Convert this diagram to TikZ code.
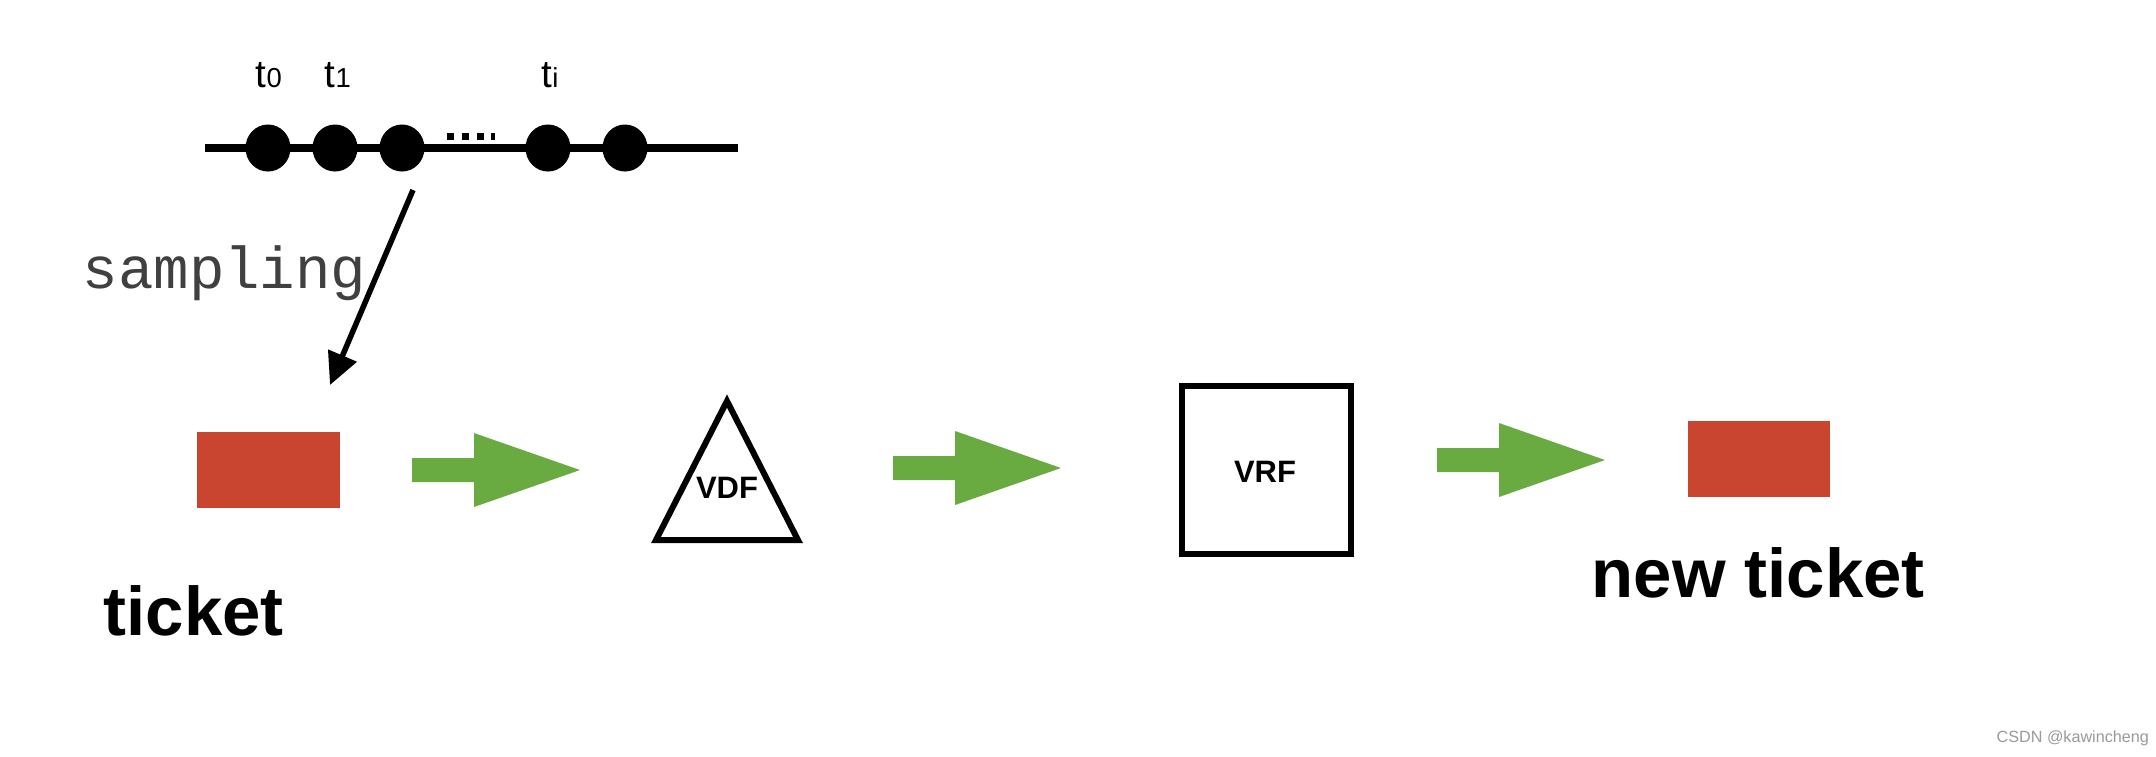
\documentclass[tikz,border=0pt]{standalone}
\usepackage{fontspec}
\setmainfont{Liberation Sans}
\newfontfamily\monofont{Liberation Mono}
\usetikzlibrary{arrows.meta}
\definecolor{ticketred}{HTML}{C9452F}
\definecolor{arrowgreen}{HTML}{6AAB41}
\definecolor{samplegray}{HTML}{404040}
\definecolor{markgray}{HTML}{9A9A9A}
\tikzset{
  px/.style={x=0.01cm,y=-0.01cm},
  dot/.style={ellipse,fill=black,inner sep=0pt,minimum width=0.45cm,minimum height=0.47cm},
  ticketbox/.style={rectangle,fill=ticketred,inner sep=0pt,minimum width=1.42cm,minimum height=0.76cm},
  bigtext/.style={inner sep=0pt,font=\bfseries\fontsize{19.6}{22}\selectfont},
  fnlabel/.style={inner sep=0pt,font=\bfseries\fontsize{8.8}{10}\selectfont},
  tlabel/.style={inner sep=0pt,anchor=base,font=\fontsize{11}{13}\selectfont},
  pics/greenarrow/.style={code={
    \fill[arrowgreen] (0,-12) -- (62,-12) -- (62,-37) -- (168,0) -- (62,37) -- (62,12) -- (0,12) -- cycle;
  }}
}
\usetikzlibrary{shapes.geometric}
\begin{document}
\begin{tikzpicture}[px]
\useasboundingbox (0,0) rectangle (2156,756);
\fill[white] (0,0) rectangle (2156,756);
% timeline
\coordinate (tlstart) at (205,148);
\coordinate (tlend) at (738,148);
\draw[line width=0.075cm] (tlstart) -- (tlend);
\node[dot] (d0) at (268,148) {};
\node[dot] (d1) at (335,148) {};
\node[dot] (d2) at (402,148) {};
\node[dot] (d3) at (548,148) {};
\node[dot] (d4) at (625,148) {};
\foreach \xx in {447,462,477} {\fill (\xx,132.5) rectangle ++(7,7);}
\fill (491,132.5) rectangle ++(4,7);
\node[tlabel] (t0) at (269,87) {t{\fontsize{7.8}{9}\selectfont 0}};
\node[tlabel] (t1) at (338,87) {t{\fontsize{7.8}{9}\selectfont 1}};
\node[tlabel] (ti) at (550,87) {t{\fontsize{7.8}{9}\selectfont i}};
% sampling
\node[anchor=base west,inner sep=0pt,text=samplegray,font=\monofont\fontsize{16.8}{18}\selectfont] (samp) at (82,288) {sampling};
\coordinate (sampstart) at (413,190);
\coordinate (sampend) at (330,385);
\draw[line width=0.055cm,-{Triangle[length=0.32cm,width=0.3cm]}] (sampstart) -- (sampend);
% ticket
\node[ticketbox] (ticket) at (268.5,470) {};
\node[bigtext,anchor=base west] (ticketlbl) at (103,635) {ticket};
\pic at (412,470) {greenarrow};
% VDF triangle
\coordinate (va) at (727,401);
\coordinate (vl) at (656,540);
\coordinate (vr) at (798,540);
\draw[line width=0.06cm,line join=miter] (va) -- (vl) -- (vr) -- cycle;
\node[fnlabel] (vdf) at (727,488) {VDF};
\pic at (893,468) {greenarrow};
% VRF box
\node[draw,line width=0.06cm,minimum width=1.68cm,minimum height=1.68cm,inner sep=0pt] (vrfbox) at (1266.5,470) {};
\node[fnlabel] (vrf) at (1265,472) {VRF};
\pic at (1437,460) {greenarrow};
% new ticket
\node[ticketbox] (newticket) at (1759,459) {};
\node[bigtext,anchor=base west] (newticketlbl) at (1591,597) {new ticket};
% watermark
\node[anchor=west,inner sep=0pt,text=markgray,font=\fontsize{4.6}{5}\selectfont] (mark) at (1996,738) {CSDN @kawincheng};
\end{tikzpicture}
\end{document}
